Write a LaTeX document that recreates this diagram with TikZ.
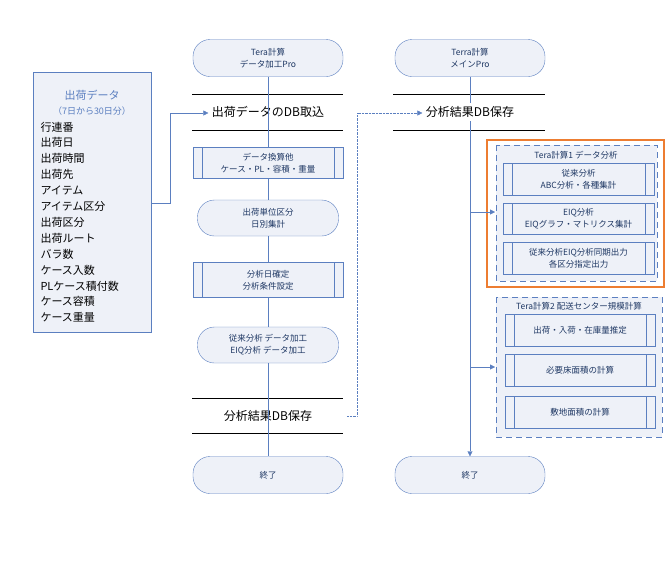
\documentclass[tikz,border=0pt]{standalone}
\usepackage{fontspec}
\setmainfont{Noto Sans CJK JP}
\usetikzlibrary{arrows.meta}
\definecolor{bline}{HTML}{5B7FC0}
\definecolor{bfill}{HTML}{EEF1F8}
\definecolor{btext}{HTML}{1F3864}
\definecolor{obox}{HTML}{ED7D31}
\tikzset{
  term/.style={draw=bline, fill=bfill, rounded corners=17pt, minimum width=150pt,
    minimum height=37pt, align=center, font=\fontsize{8.5}{12}\selectfont, text=btext},
  predef/.style={draw=bline, fill=bfill, minimum width=#1, minimum height=31pt,
    align=center, font=\fontsize{8.5}{12}\selectfont, text=btext,
    path picture={\draw[bline] ([xshift=9pt]path picture bounding box.north west) --
      ([xshift=9pt]path picture bounding box.south west)
      ([xshift=-9pt]path picture bounding box.north east) --
      ([xshift=-9pt]path picture bounding box.south east);}},
  predef/.default=150pt,
  store/.style={font=\fontsize{12}{14}\selectfont},
  group/.style={draw=bline, fill=bfill, dashed, dash pattern=on 6pt off 4pt},
  flow/.style={bline, -{Triangle[length=5pt,width=5pt]}},
}
\begin{document}
\begin{tikzpicture}[x=1pt, y=-1pt]
    \useasboundingbox (0,0) rectangle (672,563);

    % shipment data
    \node [draw=bline, fill=bfill, minimum width=118pt, minimum height=260pt] (data) at (92,202) {};
    \node [text=bline, font=\fontsize{11}{13}\selectfont] at (92,95) {出荷データ};
    \node [text=bline, font=\fontsize{9}{10}\selectfont] at (92,111) {（7日から30日分）};
    \foreach \t [count=\i] in {行連番,出荷日,出荷時間,出荷先,アイテム,アイテム区分,出荷区分,出荷ルート,バラ数,ケース入数,PLケース積付数,ケース容積,ケース重量}
        \node [anchor=west, font=\fontsize{11}{13}\selectfont] at (37,{111+\i*15.9}) {\t};

    % first column
    \node [term] (t1) at (268,58) {Tera計算\\データ加工Pro};
    \node [store] (s1) at (268,112) {出荷データのDB取込};
    \node [predef] (p1) at (268,163) {データ換算他\\ケース・PL・容積・重量};
    \node [term, minimum width=141pt, minimum height=36pt] (t2) at (268,218) {出荷単位区分\\日別集計};
    \node [predef, minimum height=35pt] (p2) at (268,280) {分析日確定\\分析条件設定};
    \node [term, minimum width=141pt, minimum height=36pt] (t3) at (268,345) {従来分析 データ加工\\EIQ分析 データ加工};
    \node [store] (s2) at (268,416) {分析結果DB保存};
    \node [term] (e1) at (268,475) {終了};
    \draw (192,94) -- (343,94) (192,130) -- (343,130);
    \draw (192,398) -- (343,398) (192,433) -- (343,433);
    \foreach \a/\b in {t1/p1,p1/t2,t2/p2,p2/t3,t3/e1}
        \draw [bline] (\a) -- (\b);

    % second column
    \node [term] (t4) at (470,58) {Terra計算\\メインPro};
    \node [store] (s3) at (470,112) {分析結果DB保存};
    \node [term] (e2) at (470,475) {終了};
    \draw (393,94) -- (545,94) (393,130) -- (545,130);
    \draw [bline] (t4.south) -- (s3.north);
    \draw [flow] (s3.south) -- (e2.north);

    % analysis groups
    \draw [obox, line width=1.5pt] (487,140) rectangle (664,287);
    \draw [group] (496,145) rectangle (657,281);
    \node [text=btext, font=\fontsize{8.5}{9}\selectfont] (g1) at (576,155) {Tera計算1 データ分析};
    \node [predef=151pt, minimum height=32pt] (a1) at (578.5,179) {従来分析\\ABC分析・各種集計};
    \node [predef=151pt] (a2) at (578.5,218.5) {EIQ分析\\EIQグラフ・マトリクス集計};
    \node [predef=151pt, minimum height=32pt] (a3) at (578.5,258) {従来分析EIQ分析同期出力\\各区分指定出力};
    \draw [group] (496,297) rectangle (662,437);
    \node [text=btext, font=\fontsize{8.5}{9}\selectfont] (g2) at (579,306) {Tera計算2 配送センター規模計算};
    \node [predef=150pt, minimum height=32pt] (b1) at (580,330) {出荷・入荷・在庫量推定};
    \node [predef=150pt, minimum height=32pt] (b2) at (580,370) {必要床面積の計算};
    \node [predef=150pt, minimum height=32pt] (b3) at (580,412) {敷地面積の計算};
    \coordinate (j1) at (470,212);
    \coordinate (j2) at (470,367);
    \draw [flow] (j1) -- (495,212);
    \draw [flow] (j2) -- (495,367);

    % connectors
    \draw [flow] (data.east |- 0,203) -- (170,203) -- (170,113) -- (s1.west |- 0,113);
    \draw [flow, densely dotted] (347,416) -- (357,416) -- (357,113) -- (s3.west |- 0,113);
\end{tikzpicture}
\end{document}
